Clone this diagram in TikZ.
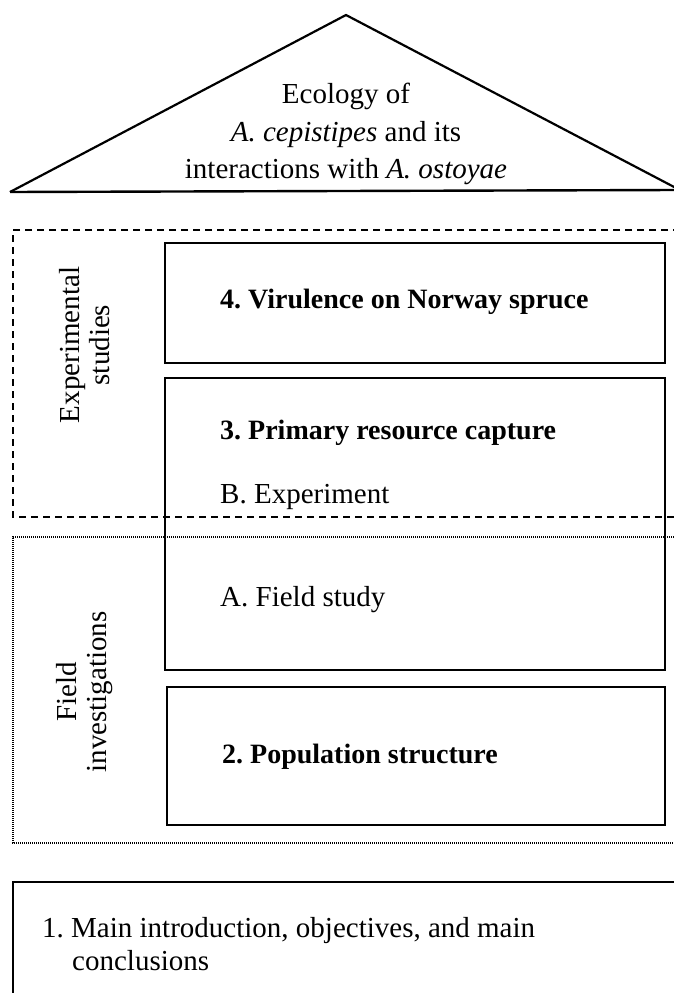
\documentclass[tikz,border=0pt]{standalone}
\usepackage{fontspec}
\setmainfont{Liberation Serif}
\frenchspacing
\begin{document}
\begin{tikzpicture}[x=1pt,y=-1pt,
  solidbox/.style={draw,line width=2.4pt},
  lbl/.style={font=\fontsize{29}{33}\selectfont,anchor=west,inner sep=0pt},
  blbl/.style={lbl,font=\fontsize{28}{33}\selectfont\bfseries},
  side/.style={font=\fontsize{29}{30}\selectfont,rotate=90,align=center,inner sep=0pt}]
\useasboundingbox (0,0) rectangle (674,993);
\clip (0,0) rectangle (674,993);
% roof
\draw[line width=2.2pt,line join=miter] (10,192) -- (346,15) -- (676,188);
\draw[line width=2.4pt] (10,192) -- (676,190);
\node[align=center,font=\fontsize{29}{37.5}\selectfont,inner sep=0pt] (roof) at (346,134)
  {Ecology of\\\textit{A. cepistipes} and its\\interactions with \textit{A. ostoyae}};
% group frames
\draw[line width=1.6pt,dash pattern=on 7pt off 5pt] (680,230) -- (13,230) -- (13,517) -- (680,517);
\draw[line width=1.4pt,dash pattern=on 1pt off 1pt] (680,537) -- (13,537) -- (13,843) -- (680,843);
\node[side] (exp) at (85,345) {Experimental\\studies};
\node[side] (field) at (85,692) {Field\\investigations};
% boxes
\draw[solidbox] (165,243) rectangle (665,363);
\draw[solidbox] (165,378) rectangle (665,670);
\draw[solidbox] (167,687) rectangle (665,825);
\draw[solidbox] (13,1010) -- (13,882) -- (690,882);
\node[blbl] (b4) at (220,302) {4. Virulence on Norway spruce};
\node[blbl] (b3) at (220,433) {3. Primary resource capture};
\node[lbl] (b3b) at (220,497) {B. Experiment};
\node[lbl] (b3a) at (220,600) {A. Field study};
\node[blbl] (b2) at (222,757) {2. Population structure};
\node[lbl,align=left,anchor=north west,font=\fontsize{29}{33}\selectfont] (b1) at (42,917)
  {1. Main introduction, objectives, and main\\\hspace*{30pt}conclusions};
\end{tikzpicture}
\end{document}
